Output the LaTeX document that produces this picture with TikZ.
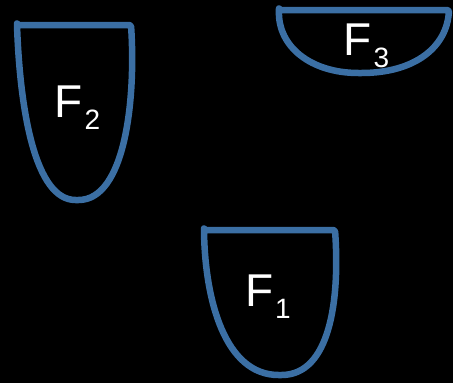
\documentclass[tikz,border=0pt]{standalone}
\usepackage{fontspec}
\setmainfont{Liberation Sans}
\definecolor{shapeblue}{RGB}{59,111,164}
\tikzset{
  cup/.style={draw=shapeblue, line width=6.5pt, line join=round, rounded corners=1.5pt},
  lbl/.style={text=white, anchor=base west, inner sep=0pt, outer sep=0pt}
}
\newcommand{\flabel}[1]{\fontsize{46}{46}\selectfont F\kern2pt\raisebox{-12.5pt}{\fontsize{28}{28}\selectfont #1}}
\begin{document}
\begin{tikzpicture}[x=1pt,y=-1pt]
\fill[black] (0,0) rectangle (453,383);
\useasboundingbox (0,0) rectangle (453,383);
% F2
\draw[cup] (17,25) -- (131,25) .. controls (136,100) and (125,200) .. (77,200) .. controls (35,200) and (20,110) .. cycle;
% F1
\draw[cup] (204,230) -- (335,230) .. controls (340,300) and (330,375) .. (280,375) .. controls (225,375) and (205,300) .. cycle;
% F3
\draw[cup] (279,10) -- (449,10) .. controls (447,47) and (415,73) .. (360,73) .. controls (310,73) and (278,46) .. cycle;
\node[lbl] (f2) at (54.5,117) {\flabel{2}};
\node[lbl] (f1) at (245,306) {\flabel{1}};
\node[lbl] (f3) at (343.5,55) {\flabel{3}};
\end{tikzpicture}
\end{document}
